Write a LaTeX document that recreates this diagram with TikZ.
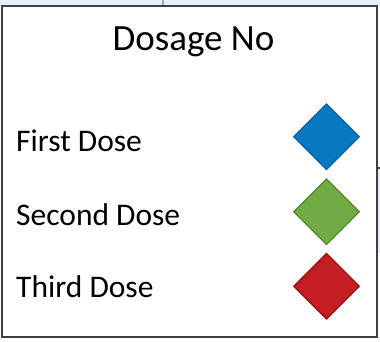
\documentclass[tikz,border=0pt]{standalone}
\usepackage{fontspec}
\setmainfont{Carlito}
\usetikzlibrary{shapes.geometric}
\definecolor{bgblue}{HTML}{E6EFF6}
\definecolor{frame}{HTML}{404040}
\definecolor{dblue}{HTML}{0779C2}
\definecolor{dblueb}{HTML}{0A5F9C}
\definecolor{dgreen}{HTML}{70AB45}
\definecolor{dgreenb}{HTML}{4F8A2A}
\definecolor{dred}{HTML}{C21E23}
\definecolor{dredb}{HTML}{A20A0E}
\tikzset{
  marker/.style={diamond, minimum width=66pt, minimum height=66pt, inner sep=0pt, line width=1.3pt, line join=miter},
  lbl/.style={anchor=base west, inner sep=0pt, font=\fontsize{31.5}{36}\selectfont},
}
\begin{document}
\begin{tikzpicture}[x=1pt,y=-1pt]
\useasboundingbox (0,0) rectangle (380,341);
\fill[white] (0,0) rectangle (380,341);
\fill[bgblue] (0,0) rectangle (380,5);
\draw[gray!70, line width=1.2pt] (163,0) -- (163,5);
\fill[bgblue] (378,168) rectangle (380,253);
\draw[frame, line width=1.5pt] (377,168) -- (380,168);
\draw[frame, line width=2pt] (1.5,5.5) rectangle (377,336.5);
\node[anchor=base, inner sep=0pt, font=\fontsize{37}{42}\selectfont] (title) at (193.5,50) {Dosage No};
\node[lbl] (l1) at (16,151.7) {First Dose};
\node[lbl] (l2) at (16,225.5) {Second Dose};
\node[lbl] (l3) at (16,297.3) {Third Dose};
\node[marker, fill=dblue, draw=dblueb] (m1) at (326.5,136.7) {};
\node[marker, fill=dgreen, draw=dgreenb] (m2) at (326.5,211.7) {};
\node[marker, fill=dred, draw=dredb] (m3) at (326.5,286.3) {};
\end{tikzpicture}
\end{document}
